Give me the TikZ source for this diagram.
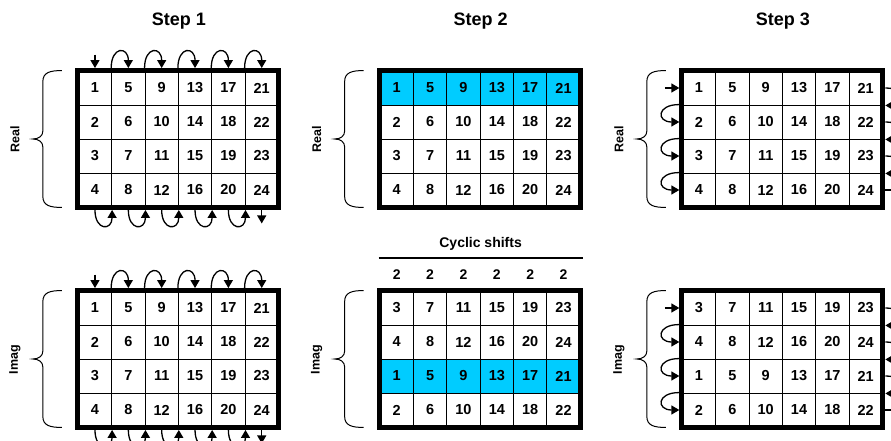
\documentclass[tikz,border=0pt]{standalone}
\usepackage{fontspec}
\setmainfont{Liberation Sans}
\usetikzlibrary{arrows.meta,calc}
\definecolor{hl}{RGB}{0,204,255}

\tikzset{
  cell/.style={draw=black, line width=0.9pt, minimum width=33.35pt, minimum height=34pt,
    inner sep=0pt, anchor=center, font=\fontsize{14.5}{16}\selectfont\bfseries},
  frame/.style={draw=black, line width=5pt},
  flow/.style={line width=1.3pt, -{Triangle[length=8pt,width=9pt]}},
  title/.style={font=\fontsize{18}{20}\selectfont\bfseries, anchor=base},
  side/.style={font=\fontsize{12.5}{14}\selectfont\bfseries, rotate=90},
  brace/.style={line width=1pt},
  shiftlabel/.style={font=\fontsize{14}{16}\selectfont\bfseries},
}

% 4x6 grid of samples: name, left x, top y, row rotation, highlighted row
\newcommand\cellgrid[5]{%
  \foreach \r in {1,...,4} {
    \foreach \c in {1,...,6} {
      \pgfmathtruncatemacro\cellval{(\c-1)*4+mod(\r-1+#4,4)+1}
      \ifnum\r=#5 \def\cellfill{hl}\else\def\cellfill{white}\fi
      \node[cell, fill=\cellfill] (#1-\r-\c) at ({#2+(\c-0.5)*33.35},{#3+(\r-0.5)*34}) {\cellval};
    }
  }
  \draw[frame] (#1-1-1.north west) rectangle (#1-4-6.south east);
}

% curly brace with rotated label on the left of a grid
\newcommand\sidebrace[2]{%
  \draw[brace] let \p1=(#1-1-1.north west), \p2=(#1-4-1.south west),
      \p3=($(#1-1-1.north west)!0.5!(#1-4-1.south west)$) in
    (\x1-16pt,\y1) .. controls (\x1-28pt,\y1) and (\x1-35pt,\y1-2pt) .. (\x1-35pt,\y1-11pt)
    -- (\x1-35pt,\y3+8pt) .. controls (\x1-35pt,\y3+3pt) and (\x1-39pt,\y3) .. (\x1-45pt,\y3)
    .. controls (\x1-39pt,\y3) and (\x1-35pt,\y3-3pt) .. (\x1-35pt,\y3-8pt)
    -- (\x1-35pt,\y2+11pt) .. controls (\x1-35pt,\y2+2pt) and (\x1-28pt,\y2) .. (\x1-16pt,\y2);
  \node[side] (#1-lab) at ([xshift=-63pt]#1-2-1.south west) {#2};
}

% column-wise reading order: in at the top, loops between columns
\newcommand\colflow[1]{%
  \draw[flow] ([yshift=16pt]#1-1-1.north) -- ([yshift=2.5pt]#1-1-1.north);
  \foreach \c in {2,...,6}
    \draw[flow] ([yshift=2.5pt]#1-1-\c.north west) .. controls +(0pt,22pt) and +(0pt,22pt) .. ([yshift=2.5pt]#1-1-\c.north);
  \foreach \c in {1,...,5}
    \draw[flow] ([yshift=-2.5pt]#1-4-\c.south) .. controls +(0pt,-21pt) and +(0pt,-21pt) .. ([yshift=-2.5pt]#1-4-\c.south east);
  \draw[flow] ([yshift=-2.5pt]#1-4-6.south) -- ([yshift=-16pt]#1-4-6.south);
}

% row-wise reading order: in at the left, loops between rows
\newcommand\rowflow[1]{%
  \draw[flow] ([xshift=-17pt]#1-1-1.west) -- ([xshift=-2.5pt]#1-1-1.west);
  \foreach \r in {2,3,4}
    \draw[flow] ([xshift=-2.5pt]#1-\r-1.north west) .. controls +(-23pt,0pt) and +(-23pt,0pt) .. ([xshift=-2.5pt]#1-\r-1.west);
  \foreach \r in {1,2,3}
    \draw[flow] ([xshift=2.5pt]#1-\r-6.east) .. controls +(23pt,0pt) and +(23pt,0pt) .. ([xshift=2.5pt]#1-\r-6.south east);
  \draw[flow] ([xshift=2.5pt]#1-4-6.east) -- ([xshift=17pt]#1-4-6.east);
}

\begin{document}
\begin{tikzpicture}[x=1pt,y=-1pt]
  \useasboundingbox (0,0) rectangle (891,441);

  % step 1
  \cellgrid{g1r}{78.3}{71}{0}{0}
  \cellgrid{g1i}{78.3}{291}{0}{0}
  \sidebrace{g1r}{Real}
  \sidebrace{g1i}{Imag}
  \colflow{g1r}
  \colflow{g1i}

  % step 2
  \cellgrid{g2r}{380.1}{71}{0}{1}
  \cellgrid{g2i}{380.1}{291}{2}{3}
  \sidebrace{g2r}{Real}
  \sidebrace{g2i}{Imag}

  % step 3
  \cellgrid{g3r}{682.3}{71}{0}{0}
  \cellgrid{g3i}{682.3}{291}{2}{0}
  \sidebrace{g3r}{Real}
  \sidebrace{g3i}{Imag}
  \rowflow{g3r}
  \rowflow{g3i}

  % titles
  \coordinate (ty) at (0,26);
  \node[title] (t1) at (g1r-1-3.north east |- ty) {Step 1};
  \node[title] (t2) at (g2r-1-3.north east |- ty) {Step 2};
  \node[title] (t3) at (g3r-1-3.north east |- ty) {Step 3};

  % cyclic shift amounts above the imaginary grid of step 2
  \coordinate (cy) at (0,244);
  \coordinate (ry) at (0,258);
  \coordinate (sy) at (0,274.5);
  \node[shiftlabel] (cyc) at (g2i-1-3.north east |- cy) {Cyclic shifts};
  \coordinate (rl) at ([xshift=-1pt]g2i-1-1.north west |- ry);
  \coordinate (rr) at ([xshift=2pt]g2i-1-6.north east |- ry);
  \draw[line width=1.3pt] (rl) -- (rr);
  \foreach \c in {1,...,6}
    \node[shiftlabel] (sh-\c) at (g2i-1-\c |- sy) {2};
\end{tikzpicture}
\end{document}
